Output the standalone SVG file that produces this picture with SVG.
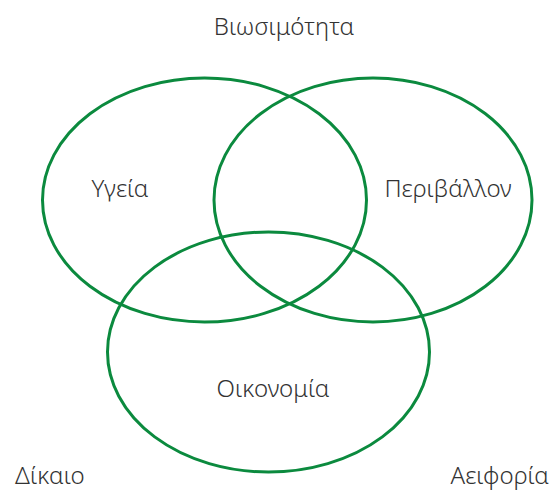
<svg xmlns="http://www.w3.org/2000/svg" width="554" height="490" viewBox="0 0 554 490">
<style>
.c{fill:none;stroke:#0b8a3e;stroke-width:3}
.t{font-family:"Noto Sans","Open Sans","DejaVu Sans",sans-serif;font-weight:300;font-size:24px;fill:#333}
</style>
<rect width="554" height="490" fill="#fff"/>
<g id="connectors"></g>
<g id="ygeia"><ellipse class="c" cx="204.5" cy="200" rx="162" ry="122"/><text class="t" x="120" y="197" text-anchor="middle">Υγεία</text></g>
<g id="perivallon"><ellipse class="c" cx="373" cy="200" rx="159" ry="122"/><text class="t" x="448" y="197" text-anchor="middle">Περιβάλλον</text></g>
<g id="oikonomia"><ellipse class="c" cx="268.5" cy="352" rx="161" ry="120"/><text class="t" x="273" y="397" text-anchor="middle">Οικονομία</text></g>
<g id="labels">
<text class="t" x="284" y="35" text-anchor="middle">Βιωσιμότητα</text>
<text class="t" x="15" y="484">Δίκαιο</text>
<text class="t" x="549" y="484" text-anchor="end">Αειφορία</text>
</g>
</svg>
